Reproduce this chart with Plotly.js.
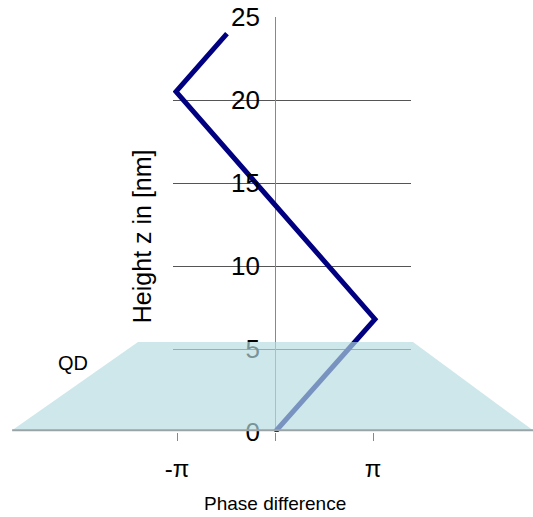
<!DOCTYPE html>
<html>
<head>
<meta charset="utf-8">
<script src="https://cdn.plot.ly/plotly-3.0.1.min.js"></script>
<style>html,body{margin:0;padding:0;background:#fff;}#chart{width:533px;height:517px;}</style>
</head>
<body>
<div id="chart"></div>
<script>
// Phase difference in units of pi, height z in nm
const phaseDiff = [0, 1.02, -1.01, -0.49];
const heightZ = [0, 6.8, 20.5, 24.0];
const xTickVals = [-1, 0, 1];
const xTickText = ['-π', '', 'π'];
const yTickVals = [0, 5, 10, 15, 20, 25];

const sans = 'Liberation Sans, Arial, sans-serif';

const trace = {
  x: phaseDiff, y: heightZ, type: 'scatter', mode: 'lines',
  line: {color: 'rgb(0,0,128)', width: 5},
  hoverinfo: 'skip', showlegend: false
};

const layout = {
  width: 533, height: 517,
  margin: {l: 173, r: 122, t: 17, b: 85},
  paper_bgcolor: '#ffffff', plot_bgcolor: 'rgba(0,0,0,0)',
  showlegend: false,
  xaxis: {
    range: [-1.0408, 1.3878], fixedrange: true,
    tickvals: xTickVals, ticktext: xTickText,
    ticks: 'outside', ticklen: 8, tickcolor: '#888', tickwidth: 1,
    showgrid: false, zeroline: true, zerolinecolor: '#888', zerolinewidth: 1,
    showline: false,
    tickfont: {family: sans, size: 24, color: '#000'},
    ticklabelstandoff: 7
  },
  yaxis: {
    range: [0, 25], fixedrange: true,
    tickvals: yTickVals,
    anchor: 'free', position: 0.4286,
    showgrid: true, gridcolor: '#555', gridwidth: 1,
    zeroline: false, showline: false, ticks: '',
    tickfont: {family: sans, size: 26, color: '#000'},
    ticklabelstandoff: 15
  },
  shapes: [
    {type: 'path', xref: 'paper', yref: 'y', layer: 'above',
     path: 'M -0.676 0.1 L -0.147 5.42 L 1.0084 5.42 L 1.5126 0.1 Z',
     fillcolor: 'rgb(180,219,224)', opacity: 0.67, line: {width: 0}},
    {type: 'line', xref: 'paper', yref: 'y', layer: 'above',
     x0: -0.676, x1: 1.5126, y0: 0.1, y1: 0.1,
     line: {color: '#9aa4a6', width: 2}}
  ],
  annotations: [
    {text: 'QD', xref: 'paper', yref: 'y', x: -0.42, y: 4.16, showarrow: false,
     font: {family: sans, size: 20, color: '#000'}, xanchor: 'center', yanchor: 'middle'},
    {text: 'Phase difference', xref: 'x', yref: 'paper', x: 0, y: -0.173, showarrow: false,
     font: {family: sans, size: 19, color: '#000'}, xanchor: 'center', yanchor: 'middle'},
    {text: 'Height z in [nm]', xref: 'paper', yref: 'y', x: -0.13, y: 11.8, showarrow: false,
     textangle: -90, font: {family: sans, size: 25, color: '#000'},
     xanchor: 'center', yanchor: 'middle'}
  ]
};

Plotly.newPlot('chart', [trace], layout, {staticPlot: true, displayModeBar: false});
</script>
</body>
</html>
